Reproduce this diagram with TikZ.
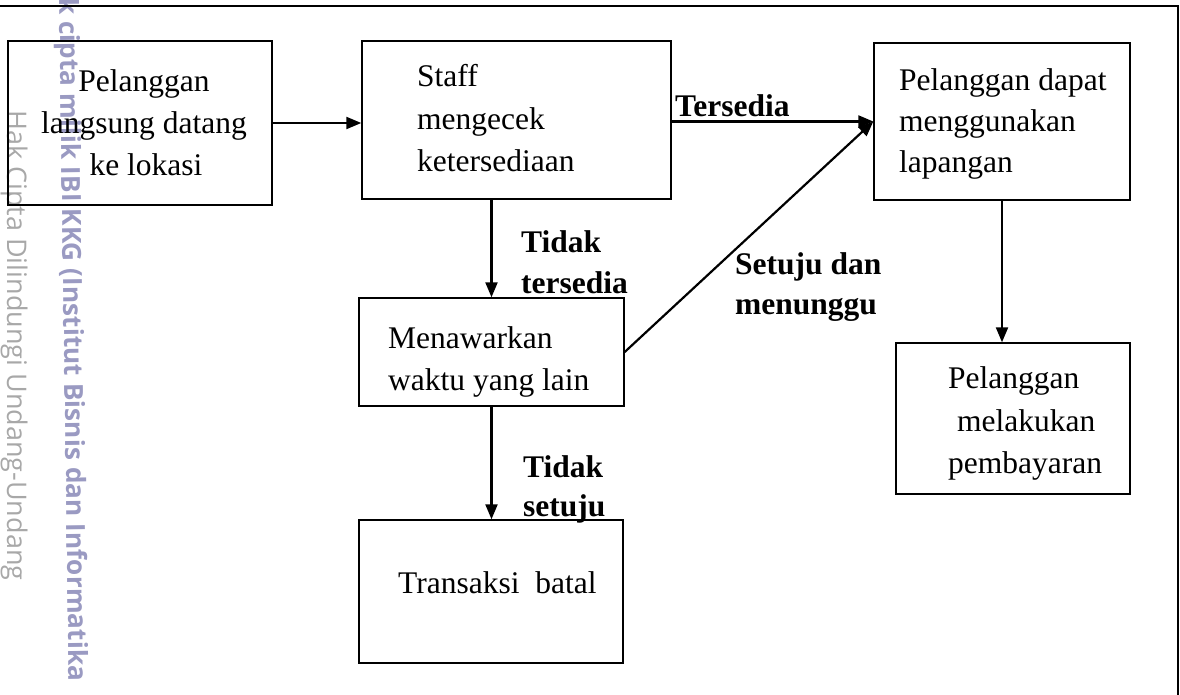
\documentclass[tikz,border=0pt]{standalone}
\usepackage{fontspec}
\setmainfont{Liberation Serif}
\newfontfamily\wmfont{Open Sans}
\usetikzlibrary{arrows.meta}
\definecolor{wmblue}{HTML}{9A9AC2}
\definecolor{wmgray}{HTML}{A8A8A8}
\begin{document}
\begin{tikzpicture}[x=1pt,y=-1pt,
  box/.style={draw, line width=1.4pt, inner sep=0pt},
  txt/.style={font=\fontsize{31.5}{38}\selectfont, inner sep=0pt},
  lbl/.style={font=\fontsize{31.5}{38}\selectfont\bfseries, inner sep=0pt},
  arr/.style={line width=2.2pt, -{Triangle[length=15pt,width=12pt]}},
  wmbold/.style={font=\fontsize{26.3}{30}\wmfont\bfseries, text=wmblue, inner sep=0pt},
  wmlight/.style={font=\fontsize{27}{30}\wmfont, text=wmgray, inner sep=0pt}]
\useasboundingbox (0,0) rectangle (1180,695);
\clip (0,0) rectangle (1180,695);
% watermark
\node[wmlight, anchor=base west, rotate=-90] (wm2) at (7,110) {Hak Cipta Dilindungi Undang-Undang};
\node[wmbold, anchor=base west, rotate=-89.2] (wm1) at (59,-38) {Hak cipta milik IBI KKG (Institut Bisnis dan Informatika};
% frame
\draw[line width=2pt] (0,6) -- (1178,6) -- (1178,700);
% boxes
\node[box, minimum width=264pt, minimum height=164pt] (b1) at (140,123) {};
\node[box, minimum width=309pt, minimum height=158pt] (b2) at (516.5,120) {};
\node[box, minimum width=256pt, minimum height=157pt] (b3) at (1002,121.5) {};
\node[box, minimum width=265pt, minimum height=108pt] (b4) at (491.5,352) {};
\node[box, minimum width=234pt, minimum height=151pt] (b5) at (1013,418.5) {};
\node[box, minimum width=264pt, minimum height=143pt] (b6) at (491,591.5) {};
% box texts
\node[txt, anchor=base] (t1a) at (144,92) {Pelanggan};
\node[txt, anchor=base] (t1b) at (144,134) {langsung datang};
\node[txt, anchor=base] (t1c) at (146,176) {ke lokasi};
\node[txt, anchor=base west] (t2a) at (417,87) {Staff};
\node[txt, anchor=base west] (t2b) at (417,130) {mengecek};
\node[txt, anchor=base west] (t2c) at (417,172) {ketersediaan};
\node[txt, anchor=base west] (t3a) at (899,91) {Pelanggan dapat};
\node[txt, anchor=base west] (t3b) at (899,132) {menggunakan};
\node[txt, anchor=base west] (t3c) at (899,173) {lapangan};
\node[txt, anchor=base west] (t4a) at (388,348) {Menawarkan};
\node[txt, anchor=base west] (t4b) at (388,390) {waktu yang lain};
\node[txt, anchor=base west] (t5a) at (948,388) {Pelanggan};
\node[txt, anchor=base west] (t5b) at (957,431) {melakukan};
\node[txt, anchor=base west] (t5c) at (948,473) {pembayaran};
\node[txt, anchor=base west] (t6a) at (398,593) {Transaksi\ \ batal};
% connectors
\draw[arr] (b1.east) -- (b2.west |- b1.east);
\draw[arr] (b2.east |- b3.west) -- (b3.west);
\draw[arr] (b4.north |- b2.south) -- (b4.north);
\draw[arr] (b4.south) -- (b4.south |- b6.north);
\draw[arr] (b4.east) -- (b3.west);
\draw[arr] (b3.south) -- (b3.south |- b5.north);
% labels
\node[lbl, anchor=base west] (l1) at (675,117) {Tersedia};
\node[lbl, anchor=base west] (l2a) at (521,252) {Tidak};
\node[lbl, anchor=base west] (l2b) at (521,293) {tersedia};
\node[lbl, anchor=base west] (l3a) at (735,274) {Setuju dan};
\node[lbl, anchor=base west] (l3b) at (735,314) {menunggu};
\node[lbl, anchor=base west] (l4a) at (523,477) {Tidak};
\node[lbl, anchor=base west] (l4b) at (523,516) {setuju};
\end{tikzpicture}
\end{document}
